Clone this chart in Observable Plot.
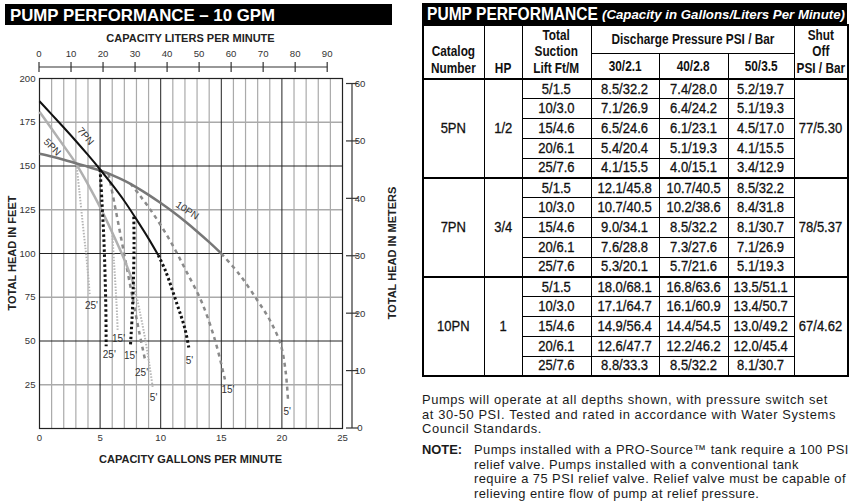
<!DOCTYPE html>
<html>
<head>
<meta charset="utf-8">
<script src="https://cdn.jsdelivr.net/npm/d3@7"></script>
<script src="https://cdn.jsdelivr.net/npm/@observablehq/plot@0.6"></script>
<style>
html,body{margin:0;padding:0;background:#fff;}
body{width:853px;height:504px;position:relative;overflow:hidden;}
#chart{position:absolute;left:0;top:0;width:410px;}
svg.bar{position:absolute;left:0;top:0;overflow:visible;}
#tbl{position:absolute;left:422px;top:24px;border-collapse:collapse;table-layout:fixed;width:425px;font-family:"Liberation Sans",Arial,sans-serif;font-size:14.7px;font-weight:normal;color:#111;border:2px solid #000;-webkit-text-stroke:0.3px #111;}
#tbl td,#tbl th{border:1px solid #000;padding:0;text-align:center;line-height:1;white-space:nowrap;overflow:visible;}
#tbl th{font-weight:bold;font-size:14.5px;-webkit-text-stroke:0;}
#tbl th.b{vertical-align:bottom;line-height:16.5px;padding-bottom:2px;}
#tbl tr.h1{height:28px;}
#tbl tr.h2{height:26px;}
#tbl tbody tr{height:19.8px;}
#tbl tbody{border-top:2px solid #000;}
.s{display:inline-block;margin:0 -30px;transform:scaleX(var(--bs,1));}
.h{display:inline-block;margin:0 -30px;transform:scaleX(var(--hs,1));}
#notes{position:absolute;left:422px;top:393px;font:12.9px/14.5px "Liberation Sans",Arial,sans-serif;color:#1a1a1a;white-space:nowrap;}
#notes .p1{letter-spacing:var(--n1,0px);}
#notes .p2{margin-top:6.5px;display:flex;letter-spacing:var(--n2,0px);}
#notes .p2 b{flex:none;width:52px;letter-spacing:0;}
</style>
</head>
<body>
<div id="chart"></div>
<table id="tbl"></table>
<div id="notes"></div>
<script>
// ---------- chart data ----------
const gpmTicks = [0, 5, 10, 15, 20, 25];
const feetTicks = [25, 50, 75, 100, 125, 150, 175, 200];
const literTicks = [0, 10, 20, 30, 40, 50, 60, 70, 80, 90];
const meterTicks = [0, 10, 20, 30, 40, 50, 60];
const majorGpm = [5, 10, 15, 20];
const minorGpm = [1,2,3,4,6,7,8,9,11,12,13,14,16,17,18,19,21,22,23,24];
const majorFeet = [50, 100, 150];
const minorFeet = [25, 75, 125, 175];

// pump curves [gpm, feet]
const pump5PN = [[0,181],[1,171.3],[2,161.5],[3,151.5],[4,139.5],[5,126.5],[6,112],[7,96.5],[7.8,82]];
const pump7PN = [[0,187],[1,179.5],[2,172],[3,164.3],[4,156.3],[5,148],[6,139.3],[7,130],[8,119.5],[9,108.5],[9.8,99]];
const pump10PN = [[0,157],[1,155.4],[2,153.6],[3,151.6],[4,149.6],[5,147.4],[6,144.8],[7,141.6],[8,137.8],[9,133.5],[10,128.8],[11,123.8],[12,118.4],[13,112.6],[14,106.5],[15,100]];

// suction lift curves [gpm, feet]
const lift5PN_25 = [[3.05,151],[3.3,135],[3.6,115],[3.9,96],[4.15,76]];
const lift5PN_15 = [[6.0,112],[6.15,95],[6.3,78],[6.4,65],[6.45,56]];
const lift5PN_5  = [[7.8,82],[8.3,66],[8.75,50],[9.1,35],[9.35,23]];
const lift7PN_25 = [[5.0,148],[5.15,130],[5.3,110],[5.4,90],[5.47,70],[5.5,47]];
const lift7PN_15 = [[7.78,121],[7.8,105],[7.75,85],[7.65,65],[7.5,47]];
const lift7PN_5  = [[9.8,99],[10.4,90],[11.35,71],[12.0,57],[12.35,45]];
const lift10PN_25 = [[5.7,145.5],[6.2,128],[6.7,110],[7.2,92],[7.7,74],[8.2,56],[8.75,38]];
const lift10PN_15 = [[7.5,140],[8.3,133],[9.2,124.5],[10.2,114],[11.2,102],[12.1,90],[13.4,72],[14.5,50],[15.3,28]];
const lift10PN_5  = [[15,100],[16.5,88],[18,73],[19,62],[19.9,48],[20.3,33],[20.5,17]];

// annotations
const liftLabels = [
  {text:"25'", gpm:4.29, ft:70.3}, {text:"25'", gpm:5.76, ft:42.3}, {text:"15'", gpm:6.52, ft:51.4},
  {text:"15'", gpm:7.51, ft:41.7}, {text:"25'", gpm:8.42, ft:32}, {text:"5'", gpm:9.41, ft:17.7},
  {text:"5'", gpm:12.38, ft:38.9}, {text:"15'", gpm:15.55, ft:22.3}, {text:"5'", gpm:20.44, ft:9.3}
];
const curveLabels = [
  {text:"7PN", gpm:3.8, ft:167, angle:50},
  {text:"5PN", gpm:1.05, ft:160.8, angle:45},
  {text:"10PN", gpm:12.19, ft:124.6, angle:33}
];

// ---------- table data ----------
const leftTitle = "PUMP PERFORMANCE – 10 GPM";
const rightTitle = "PUMP PERFORMANCE";
const rightSubtitle = "(Capacity in Gallons/Liters Per Minute)";
const models = ["5PN", "7PN", "10PN"];
const horsepower = ["1/2", "3/4", "1"];
const suctionLift = ["5/1.5", "10/3.0", "15/4.6", "20/6.1", "25/7.6"];
const pressures = ["30/2.1", "40/2.8", "50/3.5"];
const shutOff = ["77/5.30", "78/5.37", "67/4.62"];
const cap5PN = [["8.5/32.2","7.4/28.0","5.2/19.7"],["7.1/26.9","6.4/24.2","5.1/19.3"],["6.5/24.6","6.1/23.1","4.5/17.0"],["5.4/20.4","5.1/19.3","4.1/15.5"],["4.1/15.5","4.0/15.1","3.4/12.9"]];
const cap7PN = [["12.1/45.8","10.7/40.5","8.5/32.2"],["10.7/40.5","10.2/38.6","8.4/31.8"],["9.0/34.1","8.5/32.2","8.1/30.7"],["7.6/28.8","7.3/27.6","7.1/26.9"],["5.3/20.1","5.7/21.6","5.1/19.3"]];
const cap10PN = [["18.0/68.1","16.8/63.6","13.5/51.1"],["17.1/64.7","16.1/60.9","13.4/50.7"],["14.9/56.4","14.4/54.5","13.0/49.2"],["12.6/47.7","12.2/46.2","12.0/45.4"],["8.8/33.3","8.5/32.2","8.1/30.7"]];
const noteLines1 = ["Pumps will operate at all depths shown, with pressure switch set", "at 30-50 PSI. Tested and rated in accordance with Water Systems", "Council Standards."];
const noteLines2 = ["Pumps installed with a PRO-Source™ tank require a 100 PSI", "relief valve. Pumps installed with a conventional tank", "require a 75 PSI relief valve. Relief valve must be capable of", "relieving entire flow of pump at relief pressure."];

const LPG = 3.785, FPM = 3.28084;
const FONT = '"Liberation Sans", Arial, sans-serif';

function extraAxes(index, scales) {
  const x = scales.x, y = scales.y;
  const g = d3.create("svg:g").attr("font-family", FONT).attr("font-size", 9.6).attr("fill", "#333");
  const ay = y(200) - 11;
  const stroke = "#333";
  g.append("line").attr("x1", x(0)).attr("x2", x(literTicks[literTicks.length-1] / LPG)).attr("y1", ay).attr("y2", ay).attr("stroke", stroke).attr("stroke-width", 1.2);
  for (const L of literTicks) {
    const px = x(L / LPG);
    g.append("line").attr("x1", px).attr("x2", px).attr("y1", ay - 5).attr("y2", ay + 5).attr("stroke", stroke).attr("stroke-width", 1.2);
    g.append("text").attr("x", px).attr("y", ay - 10.5).attr("text-anchor", "middle").text(L);
  }
  const cx = (x(0) + x(25)) / 2;
  g.append("text").attr("x", cx).attr("y", ay - 25).attr("text-anchor", "middle").attr("font-weight", "bold").attr("font-size", 11).attr("fill", "#222").text("CAPACITY LITERS PER MINUTE");
  g.append("text").attr("x", cx).attr("y", y(0) + 35).attr("text-anchor", "middle").attr("font-weight", "bold").attr("font-size", 11).attr("fill", "#222").text("CAPACITY GALLONS PER MINUTE");
  const cy = (y(0) + y(200)) / 2;
  g.append("text").attr("transform", `translate(12,${cy}) rotate(-90)`).attr("dy", "0.35em").attr("text-anchor", "middle").attr("font-weight", "bold").attr("font-size", 11).attr("fill", "#222").text("TOTAL HEAD IN FEET");
  const ax = x(25) + 10;
  g.append("line").attr("x1", ax).attr("x2", ax).attr("y1", y(0)).attr("y2", y(60 * FPM)).attr("stroke", stroke).attr("stroke-width", 1.2);
  for (const m of meterTicks) {
    const py = y(m * FPM);
    g.append("line").attr("x1", ax - 6).attr("x2", ax + 6).attr("y1", py).attr("y2", py).attr("stroke", stroke).attr("stroke-width", 1.2);
    g.append("text").attr("x", ax + 8).attr("y", py).attr("dy", "0.35em").text(m);
  }
  g.append("text").attr("transform", `translate(${ax + 40},${cy}) rotate(-90)`).attr("dy", "0.35em").attr("text-anchor", "middle").attr("font-weight", "bold").attr("font-size", 11).attr("fill", "#222").text("TOTAL HEAD IN METERS");
  return g.node();
}

const L = (data, opts) => Plot.line(data, {x: d => d[0], y: d => d[1], curve: "catmull-rom", strokeLinecap: "butt", ...opts});

const chart = Plot.plot({
  width: 410, height: 475,
  marginLeft: 39, marginRight: 68, marginTop: 78, marginBottom: 47,
  style: {fontFamily: FONT, fontSize: "9.6px", color: "#333", background: "transparent", overflow: "visible"},
  x: {domain: [0, 25], ticks: gpmTicks, tickSize: 0, tickPadding: 6, label: null},
  y: {domain: [0, 200], ticks: feetTicks, tickSize: 0, tickPadding: 4, label: null},
  marks: [
    Plot.ruleX(minorGpm, {stroke: "#aaa", strokeWidth: 1.2}),
    Plot.ruleY(minorFeet, {stroke: "#aaa", strokeWidth: 1.6}),
    Plot.ruleX(majorGpm, {stroke: "#222", strokeWidth: 1}),
    Plot.ruleY(majorFeet, {stroke: "#222", strokeWidth: 1}),
    Plot.frame({stroke: "#222", strokeWidth: 1.2}),
    L(lift5PN_25, {stroke: "#b5b5b5", strokeWidth: 2, strokeDasharray: "1.5,1.5"}),
    L(lift5PN_15, {stroke: "#b5b5b5", strokeWidth: 2, strokeDasharray: "1.5,1.5"}),
    L(lift5PN_5, {stroke: "#b5b5b5", strokeWidth: 2, strokeDasharray: "1.5,1.5"}),
    L(lift10PN_25, {stroke: "#8a8a8a", strokeWidth: 2.5, strokeDasharray: "4,4"}),
    L(lift10PN_15, {stroke: "#8a8a8a", strokeWidth: 2.5, strokeDasharray: "4,4"}),
    L(lift10PN_5, {stroke: "#8a8a8a", strokeWidth: 2.5, strokeDasharray: "4,4"}),
    L(pump5PN, {stroke: "#b0b0b0", strokeWidth: 2.5}),
    L(pump10PN, {stroke: "#777", strokeWidth: 2.5}),
    L(pump7PN, {stroke: "#111", strokeWidth: 2}),
    L(lift7PN_25, {stroke: "#111", strokeWidth: 3, strokeDasharray: "2.5,2.5"}),
    L(lift7PN_15, {stroke: "#111", strokeWidth: 3, strokeDasharray: "2.5,2.5"}),
    L(lift7PN_5, {stroke: "#111", strokeWidth: 3, strokeDasharray: "2.5,2.5"}),
    Plot.text(liftLabels, {x: "gpm", y: "ft", text: "text", fontSize: 10, fill: "#333"}),
    ...curveLabels.map(c => Plot.text([c], {x: "gpm", y: "ft", text: "text", rotate: c.angle, fontSize: 10, fill: "#333"})),
    extraAxes
  ]
});
document.getElementById("chart").appendChild(chart);

// ---------- title bars (SVG text compressed to the condensed face's width) ----------
function titleBar(parts, box) {
  const pad = 4;
  const svg = d3.select("body").append("svg").attr("class", "bar")
    .attr("width", box.sw).attr("height", box.h + 2 * pad)
    .style("left", box.x + "px").style("top", (box.y - pad) + "px");
  svg.append("rect").attr("y", pad).attr("width", box.w).attr("height", box.h).attr("fill", "#000");
  for (const p of parts) {
    svg.append("text").attr("x", p.x).attr("y", pad + p.y).attr("fill", "#fff")
      .attr("font-family", FONT).attr("font-weight", "bold")
      .attr("font-style", p.italic ? "italic" : "normal").attr("font-size", p.size)
      .attr("textLength", p.len).attr("lengthAdjust", "spacingAndGlyphs").text(p.text);
  }
}
titleBar([{text: leftTitle, x: 5, y: 16.8, size: 16.5, len: 265}], {x: 5, y: 4, w: 387, h: 21, sw: 400});
titleBar([
  {text: rightTitle, x: 5, y: 17, size: 17.6, len: 171},
  {text: rightSubtitle, x: 180, y: 16.3, size: 13.6, len: 243, italic: true}
], {x: 422, y: 3, w: 425, h: 21, sw: 431});

// ---------- text fitting (emulates the condensed typeface) ----------
const ctx = document.createElement("canvas").getContext("2d");
function fit(text, font, target) { ctx.font = font; return target / ctx.measureText(text).width; }
const root = document.documentElement.style;
root.setProperty("--bs", fit("8.5/32.2", '14.7px "Liberation Sans"', 47));
root.setProperty("--hs", fit("Discharge Pressure PSI / Bar", 'bold 14.5px "Liberation Sans"', 163));
function spacing(text, target) { ctx.font = '12.9px "Liberation Sans"'; return ((target - ctx.measureText(text).width) / text.length) + "px"; }
root.setProperty("--n1", spacing(noteLines1[0], 406));
root.setProperty("--n2", spacing(noteLines2[2], 372));

// ---------- table ----------
const caps = [cap5PN, cap7PN, cap10PN];
const colWidths = [61, 38, 69, 68, 69, 66, 54];
const s = t => `<span class="s">${t}</span>`;
const h = t => `<span class="h">${t}</span>`;
let html = "<colgroup>" + colWidths.map(w => `<col style="width:${w}px">`).join("") + "</colgroup>";
html += `<thead><tr class="h1"><th rowspan="2" class="b">${h("Catalog<br>Number")}</th><th rowspan="2" class="b">${h("HP")}</th><th rowspan="2" class="b">${h("Total<br>Suction<br>Lift Ft/M")}</th><th colspan="3">${h("Discharge Pressure PSI / Bar")}</th><th rowspan="2" class="b">${h("Shut<br>Off<br>PSI / Bar")}</th></tr>`;
html += `<tr class="h2">${pressures.map(p => `<th>${h(p)}</th>`).join("")}</tr></thead>`;
models.forEach((m, i) => {
  html += "<tbody>";
  suctionLift.forEach((sl, j) => {
    html += "<tr>";
    if (j === 0) html += `<td rowspan="5">${s(m)}</td><td rowspan="5">${s(horsepower[i])}</td>`;
    html += `<td>${s(sl)}</td>` + caps[i][j].map(v => `<td>${s(v)}</td>`).join("");
    if (j === 0) html += `<td rowspan="5">${s(shutOff[i])}</td>`;
    html += "</tr>";
  });
  html += "</tbody>";
});
document.getElementById("tbl").innerHTML = html;

document.getElementById("notes").innerHTML =
  `<div class="p1">${noteLines1.join("<br>")}</div>` +
  `<div class="p2"><b>NOTE:</b><div>${noteLines2.join("<br>")}</div></div>`;
</script>
</body>
</html>
